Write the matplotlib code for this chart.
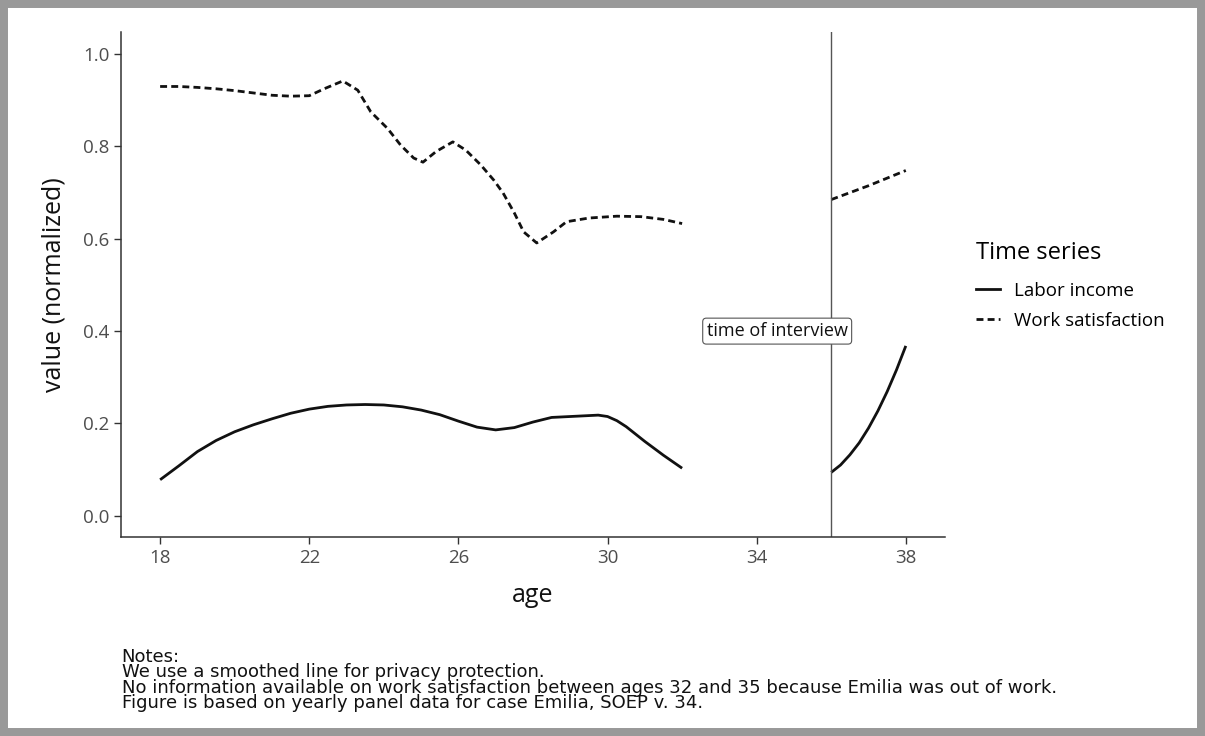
import matplotlib.pyplot as plt
from matplotlib.patches import Rectangle
from matplotlib.lines import Line2D

# Smoothed curves (age, normalized value)
income_age_a = [18, 18.5, 19, 19.5, 20, 20.5, 21, 21.5, 22, 22.5, 23, 23.5, 24, 24.5,
                25, 25.5, 26, 26.5, 27, 27.5, 28, 28.5, 29, 29.5, 29.75, 30, 30.25, 30.5,
                30.75, 31, 31.25, 31.5, 31.75, 32]
income_val_a = [0.078, 0.108, 0.139, 0.163, 0.182, 0.197, 0.210, 0.222, 0.231, 0.237,
                0.240, 0.241, 0.240, 0.236, 0.229, 0.219, 0.205, 0.192, 0.186, 0.191,
                0.203, 0.213, 0.215, 0.217, 0.218, 0.215, 0.206, 0.193, 0.177, 0.161,
                0.146, 0.131, 0.117, 0.103]
income_age_b = [36, 36.25, 36.5, 36.75, 37, 37.25, 37.5, 37.75, 38]
income_val_b = [0.094, 0.110, 0.132, 0.158, 0.190, 0.227, 0.269, 0.316, 0.368]

satis_age_a = [18, 18.5, 19, 19.5, 20, 20.5, 21, 21.5, 22, 22.4, 22.9, 23.3, 23.65, 24.1,
               24.45, 24.8, 25.05, 25.4, 25.85, 26.2, 26.6, 26.95, 27.2, 27.5, 27.75,
               28.1, 28.55, 28.9, 29.5, 30.25, 30.9, 31.5, 32]
satis_val_a = [0.930, 0.930, 0.928, 0.925, 0.921, 0.916, 0.911, 0.909, 0.910, 0.925,
               0.942, 0.922, 0.875, 0.839, 0.803, 0.775, 0.766, 0.789, 0.810, 0.792,
               0.760, 0.727, 0.699, 0.656, 0.615, 0.591, 0.615, 0.637, 0.645, 0.649,
               0.648, 0.642, 0.633]
satis_age_b = [36, 37, 38]
satis_val_b = [0.685, 0.715, 0.748]

interview_age = 36
x_ticks = [18, 22, 26, 30, 34, 38]
y_ticks = [0.0, 0.2, 0.4, 0.6, 0.8, 1.0]
notes = ("Notes:\n"
         "We use a smoothed line for privacy protection.\n"
         "No information available on work satisfaction between ages 32 and 35 because Emilia was out of work.\n"
         "Figure is based on yearly panel data for case Emilia, SOEP v. 34.")

plt.rcParams['font.family'] = ['Open Sans', 'DejaVu Sans']

fig = plt.figure(figsize=(12.05, 7.36), dpi=100)
fig.patch.set_facecolor('white')
# grey frame round the figure
fig.patches.append(Rectangle((0, 0), 1, 1, transform=fig.transFigure, fill=False,
                             edgecolor='#999999', linewidth=11.5, zorder=0))

dash = (0, (2.5, 1.5))
ax = fig.add_axes([0.1004, 0.2704, 0.6838, 0.6861])
for xs, ys, style in [(income_age_a, income_val_a, '-'), (income_age_b, income_val_b, '-'),
                      (satis_age_a, satis_val_a, dash), (satis_age_b, satis_val_b, dash)]:
    ax.plot(xs, ys, color='#111111', lw=2, ls=style, solid_joinstyle='round',
            dash_joinstyle='round', solid_capstyle='butt')

ax.axvline(interview_age, color='#555555', lw=1)
ax.text(34.55, 0.4, 'time of interview', ha='center', va='center', fontsize=13,
        color='#111111',
        bbox=dict(boxstyle='round,pad=0.22,rounding_size=0.2', fc='white',
                  ec='#555555', lw=0.8))

ax.set_xlim(16.95, 39.05)
ax.set_ylim(-0.046, 1.048)
ax.set_xticks(x_ticks)
ax.set_yticks(y_ticks)
ax.set_yticklabels([f'{v:.1f}' for v in y_ticks])
ax.tick_params(labelsize=13.5, labelcolor='#4d4d4d', color='#333333', length=5, width=1)
for side in ['top', 'right']:
    ax.spines[side].set_visible(False)
for side in ['left', 'bottom']:
    ax.spines[side].set_color('#333333')
    ax.spines[side].set_linewidth(1.1)

ax.set_xlabel('age', fontsize=18, labelpad=12, color='#111111')
ax.set_ylabel('value (normalized)', fontsize=18, labelpad=12, color='#111111')

handles = [Line2D([], [], color='#111111', lw=2),
           Line2D([], [], color='#111111', lw=2, ls=dash)]
leg = fig.legend(handles, ['Labor income', 'Work satisfaction'], title='Time series',
                 loc='upper left', bbox_to_anchor=(0.796, 0.695), frameon=False,
                 fontsize=13.5, title_fontsize=17, handlelength=1.3, handletextpad=0.7,
                 labelspacing=0.62)
leg._legend_box.align = 'left'
leg._legend_box.sep = 12

fig.text(0.101, 0.12, notes, fontsize=13, va='top', ha='left', linespacing=0.82,
         color='#111111', family=['Liberation Sans Narrow', 'DejaVu Sans'])

plt.savefig('out.png', dpi=100)
